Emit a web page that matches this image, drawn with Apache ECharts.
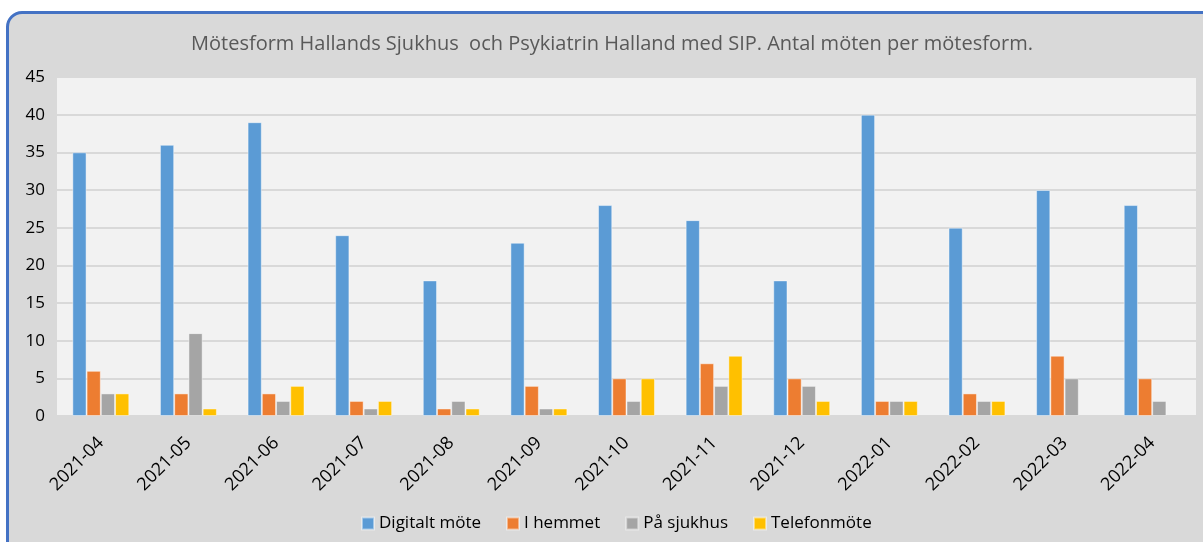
<!DOCTYPE html>
<html>
<head>
<meta charset="utf-8">
<script src="https://cdn.jsdelivr.net/npm/echarts@6/dist/echarts.min.js"></script>
<style>
  html, body { margin: 0; padding: 0; background: #fff; }
  #frame {
    position: absolute; left: 6px; top: 11px; width: 1215px; height: 545px;
    background: #d9d9d9; border: 3px solid #4472c4; border-radius: 16px;
  }
  #chart { position: absolute; left: 0; top: 0; width: 1203px; height: 542px; }
</style>
</head>
<body>
<div id="frame"></div>
<div id="chart"></div>
<script>
  // kategorier (månader)
  var months = ['2021-04', '2021-05', '2021-06', '2021-07', '2021-08', '2021-09', '2021-10',
    '2021-11', '2021-12', '2022-01', '2022-02', '2022-03', '2022-04']
  // antal möten per mötesform
  var digitalt = [35, 36, 39, 24, 18, 23, 28, 26, 18, 40, 25, 30, 28]
  var hemmet = [6, 3, 3, 2, 1, 4, 5, 7, 5, 2, 3, 8, 5]
  var sjukhus = [3, 11, 2, 1, 2, 1, 2, 4, 4, 2, 2, 5, 2]
  var telefon = [3, 1, 4, 2, 1, 1, 5, 8, 2, 2, 2, null, null]
  var seriesNames = ['Digitalt möte', 'I hemmet', 'På sjukhus', 'Telefonmöte']
  var colors = ['#5b9bd5', '#ed7d31', '#a5a5a5', '#ffc000']

  var font = "'Open Sans', 'Noto Sans', sans-serif"
  var chart = echarts.init(document.getElementById('chart'))

  function bar (name, data) {
    return {
      name: name,
      type: 'bar',
      data: data,
      barGap: '0%',
      barCategoryGap: '35%',
      itemStyle: { borderColor: 'rgba(255,255,255,0.45)', borderWidth: 1 }
    }
  }

  chart.setOption({
    animation: false,
    color: colors,
    textStyle: { fontFamily: font },
    title: {
      text: 'Mötesform Hallands Sjukhus  och Psykiatrin Halland med SIP. Antal möten per mötesform.',
      left: 186,
      top: 29,
      textStyle: { color: '#595959', fontSize: 20, fontWeight: 'normal', fontFamily: font }
    },
    legend: {
      data: seriesNames,
      top: 515,
      left: 361,
      padding: 0,
      itemWidth: 12,
      itemHeight: 12,
      itemGap: 25,
      icon: 'rect',
      textStyle: { color: '#000', fontSize: 17, fontFamily: font }
    },
    grid: {
      left: 57,
      right: 7,
      top: 77,
      bottom: 126,
      show: true,
      backgroundColor: '#f2f2f2',
      borderWidth: 0
    },
    xAxis: {
      type: 'category',
      data: months,
      axisTick: { show: false },
      axisLine: { lineStyle: { color: '#d9d9d9', width: 2 } },
      axisLabel: { rotate: 45, color: '#000', fontSize: 18, margin: 24, interval: 0 }
    },
    yAxis: {
      type: 'value',
      min: 0,
      max: 45,
      interval: 5,
      axisLine: { show: false },
      axisTick: { show: false },
      axisLabel: { color: '#000', fontSize: 17, margin: 12 },
      splitLine: { lineStyle: { color: '#d9d9d9', width: 2 } }
    },
    series: [
      bar(seriesNames[0], digitalt),
      bar(seriesNames[1], hemmet),
      bar(seriesNames[2], sjukhus),
      bar(seriesNames[3], telefon)
    ]
  })
</script>
</body>
</html>
